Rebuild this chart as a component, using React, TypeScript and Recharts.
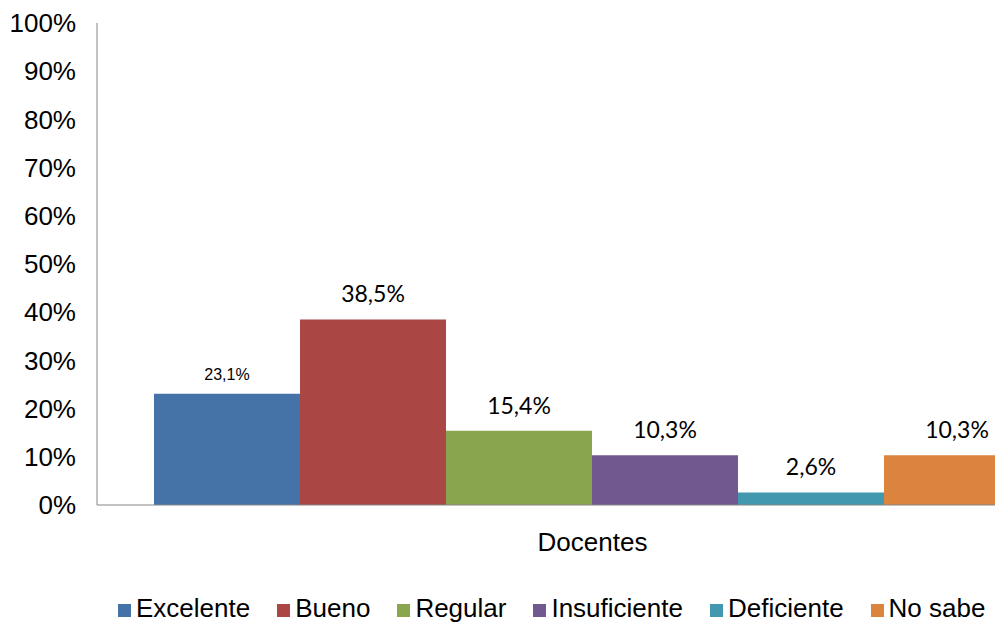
import { BarChart, Bar, XAxis, YAxis, Legend, LabelList } from 'recharts';

const categories = ['Docentes'];
const seriesNames = ['Excelente', 'Bueno', 'Regular', 'Insuficiente', 'Deficiente', 'No sabe'];
const seriesValues = [23.1, 38.5, 15.4, 10.3, 2.6, 10.3];
const seriesColors = ['#4572A7', '#AA4643', '#89A54E', '#71588F', '#4198AF', '#DB843D'];
const yTicks = [0, 10, 20, 30, 40, 50, 60, 70, 80, 90, 100];

const data = categories.map((name) => {
  const row: Record<string, string | number> = { name };
  seriesNames.forEach((s, i) => {
    row[s] = seriesValues[i];
  });
  return row;
});

const arial = '"Liberation Sans", Arial, sans-serif';
const calibri = 'Lato, "Open Sans", sans-serif';

const fmt = (v: any) => `${String(v).replace('.', ',')}%`;

function LegendBox() {
  return (
    <div
      style={{
        height: 60,
        boxSizing: 'border-box',
        paddingTop: 28,
        paddingLeft: 118,
        display: 'flex',
        alignItems: 'baseline',
        fontFamily: arial,
        fontSize: 26,
        lineHeight: '30px',
        color: '#000',
        whiteSpace: 'nowrap',
      }}
    >
      {seriesNames.map((s, i) => (
        <span key={s} style={{ marginRight: 27, display: 'inline-flex', alignItems: 'baseline' }}>
          <span
            style={{
              display: 'inline-block',
              width: 13,
              height: 13,
              background: seriesColors[i],
              marginRight: 5,
            }}
          />
          {s}
        </span>
      ))}
    </div>
  );
}

export default function App() {
  return (
    <div
      style={{
        position: 'fixed',
        left: 0,
        top: 0,
        width: 995,
        height: 625,
        overflow: 'hidden',
        background: '#fff',
      }}
    >
      <BarChart
        width={1100}
        height={625}
        data={data}
        margin={{ top: 23, right: 12, bottom: 0, left: 0 }}
        barCategoryGap={57}
        barGap={0}
      >
        <XAxis
          dataKey="name"
          axisLine={{ stroke: '#868686' }}
          tickLine={false}
          tickMargin={22}
          height={60}
          interval={0}
          tick={{ fill: '#000', fontSize: 26, fontFamily: arial }}
        />
        <YAxis
          domain={[0, 100]}
          ticks={yTicks}
          interval={0}
          tickFormatter={(v) => `${v}%`}
          axisLine={{ stroke: '#868686' }}
          tickLine={false}
          tickMargin={15}
          width={97}
          tick={{ fill: '#000', fontSize: 26, fontFamily: arial }}
        />
        <Legend verticalAlign="bottom" height={60} content={() => <LegendBox />} />
        {seriesNames.map((s, i) => (
          <Bar key={s} dataKey={s} fill={seriesColors[i]} isAnimationActive={false}>
            <LabelList
              dataKey={s}
              position="top"
              offset={i === 0 ? 14 : 17}
              formatter={fmt}
              style={
                i === 0
                  ? { fill: '#000', fontSize: 16, fontFamily: arial }
                  : { fill: '#000', fontSize: 23, fontFamily: calibri }
              }
            />
          </Bar>
        ))}
      </BarChart>
    </div>
  );
}
